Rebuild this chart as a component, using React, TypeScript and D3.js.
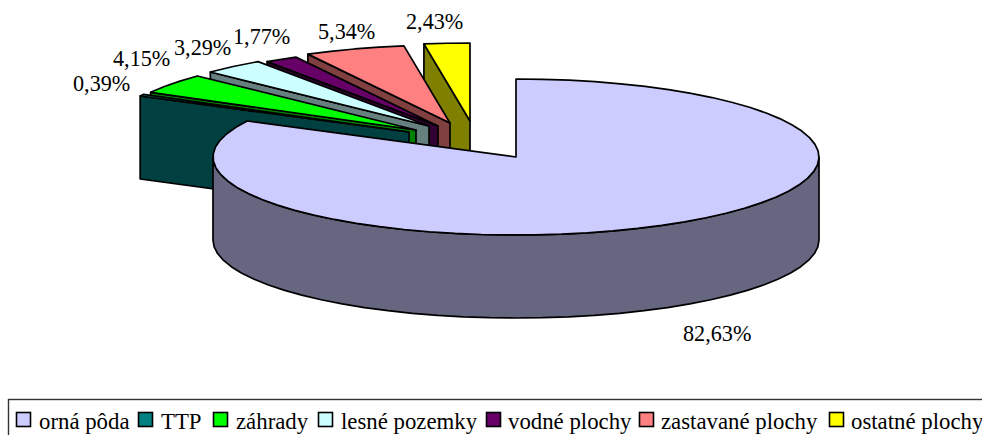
import React from "react";
import * as d3 from "d3";

const categories = ["orná pôda", "TTP", "záhrady", "lesné pozemky", "vodné plochy", "zastavané plochy", "ostatné plochy"];
const values = [82.63, 0.39, 4.15, 3.29, 1.77, 5.34, 2.43];
const valueLabels = ["82,63%", "0,39%", "4,15%", "3,29%", "1,77%", "5,34%", "2,43%"];
const topColors = ["#CCCCFF", "#008080", "#00FF00", "#CCFFFF", "#660066", "#FF8080", "#FFFF00"];
const sideColors = ["#666680", "#004040", "#008000", "#668080", "#330033", "#804040", "#808000"];

// layout (not data)
const W = 982, H = 435;
const CX = 516, CY = 157, RX = 303, RY = 78, DEPTH = 83;
const explode: [number, number][] = [[0, 0], [-107, -25], [-100, -27], [-87, -31], [-78, -31], [-66, -34], [-46, -36]];
const labelPos: [number, number][] = [[683, 341], [73, 91], [113, 66], [174, 55], [233, 44], [318, 39], [406, 29]];
const legendSwatch = [16, 138, 213, 318, 486, 639, 829];
const legendText = [39, 161, 236, 341, 508, 661, 851];
const FONT = "'Liberation Serif', 'Times New Roman', serif";
const FONT_SIZE = 22.2;
const LEGEND_FONT_SIZE = 22.8;

const pie = d3.pie<number>().sort(null).value((d) => d)(values);
const pt = (a: number, ox = 0, oy = 0, dz = 0): [number, number] => [
  CX + ox + RX * Math.sin(a),
  CY + oy - RY * Math.cos(a) + dz,
];
const line = d3.line();
// the rim is a polygon of short chords, one every few degrees
const arcPts = (a0: number, a1: number, ox = 0, oy = 0, dz = 0) => {
  const n = Math.max(1, Math.round(Math.abs(a1 - a0) / (Math.PI / 36)));
  return d3.range(0, n + 1).map((i) => pt(a0 + ((a1 - a0) * i) / n, ox, oy, dz));
};

export default function App() {
  const order = d3.range(values.length - 1, 0, -1);
  const main = pie[0];
  const frontStart = Math.PI / 2;
  const frontEnd = (3 * Math.PI) / 2;
  const sidePts = [...arcPts(frontStart, frontEnd), ...arcPts(frontEnd, frontStart, 0, 0, DEPTH)];
  const mainTop: [number, number][] = [[CX, CY], ...arcPts(main.startAngle, main.endAngle)];
  return (
    <svg width={W} height={H} style={{ position: "absolute", left: 0, top: 0, display: "block", background: "#fff" }}>
      <g stroke="#000" strokeWidth={1.7} strokeLinejoin="round">
        {order.map((i) => {
          const s = pie[i];
          const [ox, oy] = explode[i];
          const apex: [number, number] = [CX + ox, CY + oy];
          const edge = pt(s.startAngle, ox, oy);
          const wall: [number, number][] = [edge, apex, [apex[0], apex[1] + DEPTH], [edge[0], edge[1] + DEPTH]];
          const top: [number, number][] = [apex, ...arcPts(s.startAngle, s.endAngle, ox, oy)];
          return (
            <g key={i}>
              <path d={line(wall)! + "Z"} fill={sideColors[i]} />
              <path d={line(top)! + "Z"} fill={topColors[i]} />
            </g>
          );
        })}
        <path d={line(sidePts)! + "Z"} fill={sideColors[0]} />
        <path d={line(mainTop)! + "Z"} fill={topColors[0]} />
      </g>
      <g fontFamily={FONT} fontSize={FONT_SIZE} fill="#000">
        {valueLabels.map((t, i) => (
          <text key={i} x={labelPos[i][0]} y={labelPos[i][1]}>{t}</text>
        ))}
      </g>
      <rect x={8.5} y={399.5} width={1000} height={60} fill="#fff" stroke="#333" strokeWidth={1.4} />
      <g fontFamily={FONT} fontSize={LEGEND_FONT_SIZE} fill="#000">
        {categories.map((c, i) => (
          <g key={c}>
            <rect x={legendSwatch[i] + 0.5} y={412.5} width={14} height={14} fill={topColors[i]} stroke="#000" strokeWidth={1.6} />
            <text x={legendText[i]} y={429}>{c}</text>
          </g>
        ))}
      </g>
    </svg>
  );
}
